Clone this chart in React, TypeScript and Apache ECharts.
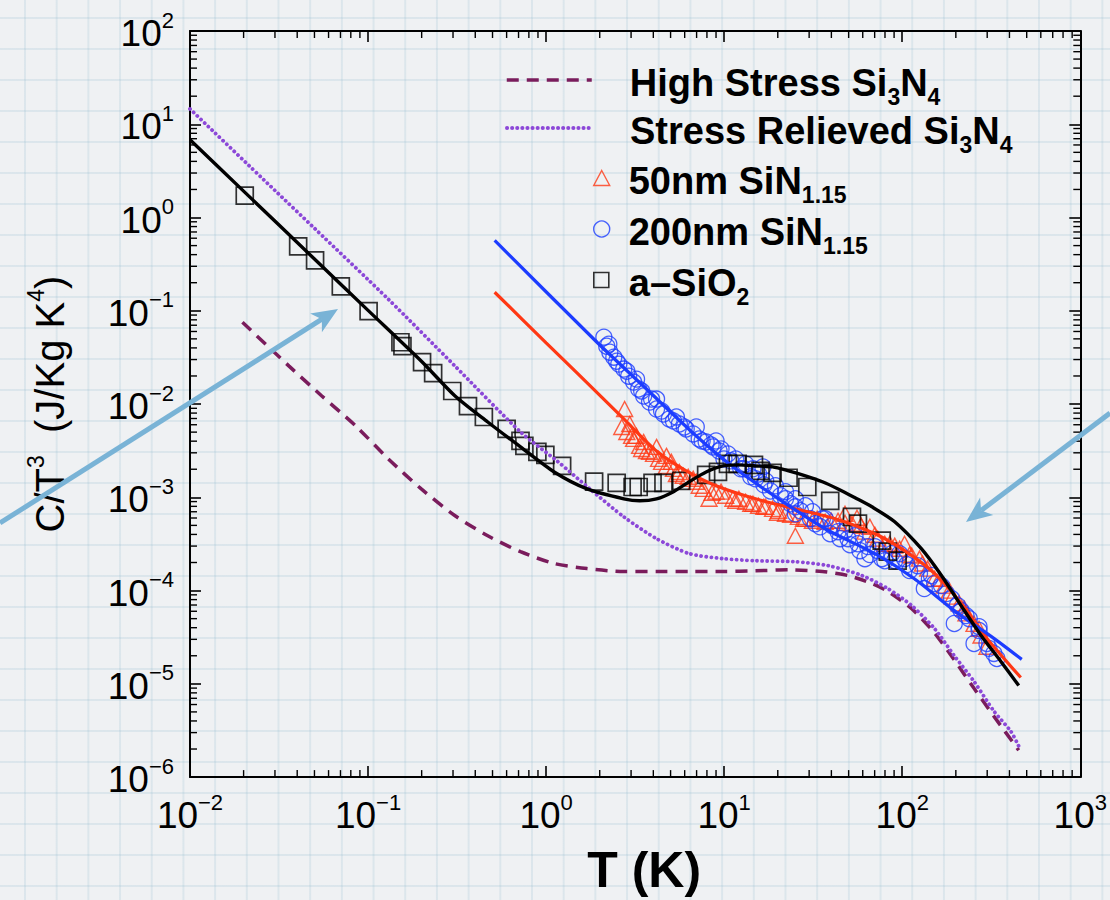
import React, { useEffect, useRef } from 'react';
import * as echarts from 'echarts';

const FONT = '"Liberation Sans", Arial, Helvetica, sans-serif';

const X_MIN = 0.01;
const X_MAX = 1000;
const Y_MIN = 1e-6;
const Y_MAX = 100;

const RED = '#ff3814';
const BLUE = '#1c3cff';
const MAROON = '#7a1c5c';
const PURPLE = '#8c48d8';
const ARROW = '#79b3d6';

// ---- a-SiO2 measured points ----
const sio2T = [0.0203, 0.0405, 0.0504, 0.0703, 0.1007, 0.152, 0.156, 0.201, 0.232, 0.297, 0.364, 0.447, 0.600, 0.718, 0.755, 0.893, 0.99, 1.23, 1.86, 2.49, 3.06, 3.31, 3.96, 4.56, 5.74, 7.92, 9.23, 10.5, 11.9, 14.7, 16.0, 18.7, 23.0, 29.3, 39.4, 52.2, 56.4, 76.7, 83.0, 94.2];
const sio2C = [1.72, 0.49, 0.347, 0.183, 0.099, 0.046, 0.0417, 0.0281, 0.0215, 0.0138, 0.00952, 0.00726, 0.00541, 0.00402, 0.00356, 0.00307, 0.00285, 0.00217, 0.00147, 0.00143, 0.00129, 0.00129, 0.00143, 0.00143, 0.0015, 0.00174, 0.00187, 0.00228, 0.00228, 0.00223, 0.00192, 0.00183, 0.00162, 0.00129, 0.000918, 0.000618, 0.000521, 0.000343, 0.000261, 0.000209];

// ---- a-SiO2 model curve ----
const sio2FitT = [0.01, 0.02, 0.05, 0.1, 0.2, 0.308, 0.47, 0.718, 1.11, 1.70, 2.73, 3.35, 4.17, 5.19, 6.37, 7.92, 9.84, 12.1, 15.0, 18.7, 23.0, 28.6, 35.6, 43.6, 54.3, 67.5, 90.7, 128, 166, 214, 277, 358, 451];
const sio2FitC = [6.83, 1.92, 0.359, 0.101, 0.0286, 0.0122, 0.00642, 0.00347, 0.00187, 0.00123, 0.000964, 0.000918, 0.000964, 0.00115, 0.00147, 0.00187, 0.00217, 0.00223, 0.00217, 0.00212, 0.00192, 0.0017, 0.00147, 0.00123, 0.000989, 0.000791, 0.000547, 0.000281, 0.000145, 6.9e-5, 3.3e-5, 1.74e-5, 9.6e-6];

// ---- Stress relieved Si3N4 (dotted) ----
const relievedT = [0.01, 0.03, 0.05, 0.13, 0.308, 0.718, 1.15, 1.76, 2.73, 4.17, 6.37, 9.84, 15.0, 25.1, 38.4, 59.4, 83.0, 113, 152, 196, 253, 327, 407, 451];
const relievedC = [14.6, 1.95, 0.767, 0.133, 0.0255, 0.00502, 0.00246, 0.00123, 0.000618, 0.00036, 0.000249, 0.00022, 0.000209, 0.000204, 0.000185, 0.000145, 0.000105, 6.9e-5, 3.9e-5, 2.0e-5, 1.06e-5, 5.1e-6, 3.1e-6, 2.15e-6];

// ---- High stress Si3N4 (dashed) ----
const highT = [0.0197, 0.036, 0.055, 0.0853, 0.13, 0.199, 0.308, 0.47, 0.718, 1.11, 1.70, 2.73, 4.17, 6.37, 9.84, 15.0, 23.0, 35.6, 49.6, 67.5, 83.0, 113, 152, 196, 253, 327, 451];
const highC = [0.0753, 0.0255, 0.0122, 0.00582, 0.00258, 0.00123, 0.000634, 0.000387, 0.000261, 0.000195, 0.000172, 0.00016, 0.00016, 0.00016, 0.00016, 0.000163, 0.000167, 0.00016, 0.000145, 0.000119, 9.8e-5, 6.4e-5, 3.5e-5, 1.8e-5, 8.95e-6, 4.5e-6, 1.94e-6];

// ---- 50nm SiN1.15 ----
const sin50T = [2.76, 2.66, 2.84, 3.10, 3.35, 3.66, 4.01, 4.45, 4.74, 4.74, 5.19, 5.89, 6.70, 7.24, 8.22, 10.2, 11.2, 13.2, 15.6, 18.7, 22.1, 25.1, 26.1, 31.3, 36.9, 43.6, 52.2, 55.7, 61.7, 72.9, 90.7, 113, 139, 172, 209, 253, 299, 2.95, 3.22, 3.53, 4.17, 5.05, 5.60, 9.0, 12.1, 14.5, 17.1, 20.2, 28.6, 47.7, 65.8, 79.8, 103, 125, 152, 191, 228, 277, 6.97, 7.62, 8.55, 9.60, 11.6, 14.1, 16.7, 19.9, 23.6, 27.9, 33.3, 39.9, 47.7, 58.6, 70.2, 85.1, 96.7, 110, 130, 162, 184, 223, 270, 3.02, 3.44, 3.81, 4.28, 5.39, 6.28];
const sin50C = [0.00885, 0.00568, 0.00502, 0.00423, 0.00356, 0.00314, 0.00292, 0.0024, 0.00278, 0.00217, 0.00202, 0.0017, 0.00158, 0.00133, 0.000964, 0.00104, 0.000964, 0.000895, 0.000811, 0.000753, 0.000667, 0.000387, 0.000618, 0.000561, 0.000547, 0.000561, 0.000521, 0.000604, 0.000428, 0.00036, 0.000303, 0.000237, 0.000172, 0.000113, 7.3e-5, 4.4e-5, 2.5e-5, 0.00611, 0.00455, 0.00392, 0.00347, 0.0024, 0.00187, 0.00115, 0.000964, 0.000852, 0.000791, 0.000717, 0.000589, 0.000666, 0.000483, 0.000318, 0.000318, 0.00022, 0.000134, 8.6e-5, 5.7e-5, 3.3e-5, 0.00147, 0.00123, 0.00112, 0.00115, 0.000918, 0.000852, 0.000791, 0.000683, 0.00065, 0.000589, 0.000589, 0.000561, 0.000534, 0.000496, 0.000397, 0.000318, 0.000281, 0.000243, 0.000195, 0.000134, 0.0001, 6.4e-5, 3.9e-5, 0.00455, 0.0033, 0.00307, 0.00258, 0.00178, 0.00166];
const sin50FitT = [0.514, 1.0, 1.5, 2.73, 4.17, 6.12, 9.0, 15.0, 25.1, 42.0, 70.2, 103, 152, 214, 299, 463];
const sin50FitC = [0.158, 0.0454, 0.0213, 0.00692, 0.00314, 0.00192, 0.00133, 0.000964, 0.000753, 0.000589, 0.000407, 0.000268, 0.000152, 7.3e-5, 3.07e-5, 1.17e-5];

// ---- 200nm SiN1.15 ----
const sin200T = [2.11, 2.19, 2.28, 2.40, 2.56, 2.73, 2.91, 3.10, 3.31, 3.53, 3.81, 4.17, 4.56, 4.92, 5.60, 6.12, 6.70, 7.24, 7.92, 8.66, 9.36, 10.5, 11.6, 13.2, 14.5, 15.6, 17.1, 19.4, 22.1, 25.1, 28.6, 31.3, 35.6, 40.4, 43.6, 49.6, 56.4, 64.1, 72.9, 87.3, 103, 122, 146, 166, 189, 214, 238, 270, 299, 327, 9.0, 12.4, 16.5, 25.1, 32.5, 47.7, 61.7, 79.8, 133, 196, 253, 340, 3.22, 4.17, 5.39, 6.97, 15.0, 9.97, 10.9, 12.9, 14.1, 16.7, 18.2, 20.7, 23.6, 26.8, 30.5, 34.6, 39.4, 44.8, 50.9, 57.9, 65.8, 76.8, 90.7, 106, 125, 152, 177, 204, 228, 270, 307, 96.7, 110, 142, 70.2, 54.3, 36.9, 22.1, 25.1, 2.25, 2.49, 2.84, 3.44, 3.91, 4.45, 5.19, 5.97, 7.52, 8.44, 9.60];
const sin200C = [0.0521, 0.0417, 0.036, 0.0318, 0.0268, 0.0237, 0.0199, 0.0172, 0.0145, 0.0122, 0.0105, 0.00884, 0.00782, 0.00692, 0.00611, 0.0054, 0.00478, 0.00422, 0.00392, 0.00347, 0.00314, 0.00292, 0.00258, 0.00228, 0.00202, 0.00178, 0.0015, 0.00133, 0.00115, 0.000964, 0.000811, 0.0007, 0.000589, 0.000496, 0.000428, 0.00036, 0.000318, 0.000296, 0.000268, 0.000249, 0.00022, 0.000185, 0.000145, 0.000113, 8.2e-5, 6.1e-5, 5.0e-5, 3.73e-5, 2.71e-5, 2.12e-5, 0.00402, 0.00202, 0.00212, 0.000666, 0.000521, 0.000438, 0.00022, 0.000209, 0.000105, 4.44e-5, 2.71e-5, 1.87e-5, 0.0185, 0.0113, 0.00726, 0.00568, 0.00158, 0.00258, 0.00246, 0.00202, 0.00166, 0.00136, 0.00117, 0.00104, 0.000852, 0.000717, 0.000589, 0.000483, 0.000407, 0.00036, 0.00031, 0.000268, 0.000243, 0.00022, 0.000209, 0.00019, 0.000152, 0.000119, 9.3e-5, 6.9e-5, 5.4e-5, 4.1e-5, 2.4e-5, 0.000249, 0.000164, 0.000134, 0.000296, 0.000387, 0.000589, 0.000964, 0.000791, 0.0438, 0.0288, 0.0225, 0.0138, 0.0113, 0.00842, 0.00658, 0.00568, 0.00402, 0.00364, 0.0033];
const sin200FitT = [0.514, 1.93, 3.66, 6.97, 11.6, 20.2, 36.9, 70.2, 117, 196, 327, 469];
const sin200FitC = [0.568, 0.046, 0.0145, 0.00455, 0.00202, 0.000964, 0.00046, 0.000249, 0.000134, 6.1e-5, 3.07e-5, 1.83e-5];

// ---- axis decoration: minor tick multipliers per decade ----
const minorMultipliers = [2, 3, 4, 5, 6, 7, 8, 9];
const xDecades = [-2, -1, 0, 1, 2];
const yDecades = [-6, -5, -4, -3, -2, -1, 0, 1];

const NAMES = {
  high: 'High Stress Si3N4',
  relieved: 'Stress Relieved Si3N4',
  s50: '50nm SiN1.15',
  s200: '200nm SiN1.15',
  sio2: 'a-SiO2',
};
const LEGEND_RICH_TEXT: Record<string, string> = {
  [NAMES.high]: '{b|High Stress Si}{s|3}{b|N}{s|4}',
  [NAMES.relieved]: '{b|Stress Relieved Si}{s|3}{b|N}{s|4}',
  [NAMES.s50]: '{b|50nm SiN}{s|1.15}',
  [NAMES.s200]: '{b|200nm SiN}{s|1.15}',
  [NAMES.sio2]: '{b|a\u2013SiO}{s|2}',
};
// vertical centre of each legend row, in the order of the legend entries
const legendRowCenters = [85, 133, 183, 234, 285];

const zip = (a: number[], b: number[]) => a.map((v, i) => [v, b[i]]);

const powLabel = (v: number) => {
  const e = Math.round(Math.log10(v));
  return `{b|10}{e|${e < 0 ? '\u2212' + -e : e}}`;
};

export default function App() {
  const ref = useRef<HTMLDivElement>(null);

  useEffect(() => {
    if (!ref.current) return;
    const chart = echarts.init(ref.current, undefined, { renderer: 'svg' });

    const xMinor = xDecades.flatMap((d) => minorMultipliers.map((m) => [m * Math.pow(10, d), 1]));
    const yMinor = yDecades.flatMap((d) => minorMultipliers.map((m) => [1, m * Math.pow(10, d)]));

    const tickRich = {
      b: { fontFamily: FONT, fontSize: 37, color: '#000', lineHeight: 44, padding: [6, 0, 6, 0], verticalAlign: 'top' },
      e: { fontFamily: FONT, fontSize: 22, color: '#000', lineHeight: 26, verticalAlign: 'top' },
    };
    const legendRich = {
      b: { fontFamily: FONT, fontSize: 38, fontWeight: 'bold', color: '#000', lineHeight: 40, padding: [4, 0, 4, 0], verticalAlign: 'top' },
      s: { fontFamily: FONT, fontSize: 23, fontWeight: 'bold', color: '#000', lineHeight: 27, padding: [25, 0, 0, 0], verticalAlign: 'top' },
    };
    const legendFormatter = (name: string) => LEGEND_RICH_TEXT[name] || name;

    const hiddenSymbol = { color: 'rgba(0,0,0,0)', borderColor: 'rgba(0,0,0,0)', borderWidth: 0, opacity: 0 };
    const legendItems: any[] = [
      { item: { name: NAMES.high, itemStyle: hiddenSymbol, lineStyle: { color: MAROON, width: 3.5, type: [12, 8] } }, left: 505, w: 85, h: 14, pad: 33 },
      { item: { name: NAMES.relieved, itemStyle: hiddenSymbol, lineStyle: { color: PURPLE, width: 4, type: [0.1, 5], cap: 'round' } }, left: 505, w: 85, h: 14, pad: 33 },
      { item: { name: NAMES.s50, icon: 'triangle', itemStyle: { color: 'rgba(0,0,0,0)', borderColor: RED, borderWidth: 1.4 } }, left: 593, w: 16, h: 15, pad: 14 },
      { item: { name: NAMES.s200, icon: 'circle', itemStyle: { color: 'rgba(0,0,0,0)', borderColor: BLUE, borderWidth: 1.4 } }, left: 593, w: 16, h: 16, pad: 14 },
      { item: { name: NAMES.sio2, icon: 'rect', itemStyle: { color: 'rgba(0,0,0,0)', borderColor: '#000', borderWidth: 1.6 } }, left: 593, w: 15, h: 15, pad: 15 },
    ];
    const legends = legendItems.map((l, i) => ({
      data: [l.item],
      orient: 'vertical', left: l.left, top: legendRowCenters[i] - 25, padding: 0,
      itemWidth: l.w, itemHeight: l.h, itemGap: 0, selectedMode: false,
      formatter: legendFormatter,
      textStyle: { rich: legendRich, padding: [0, 0, 0, l.pad] },
    }));

    const axisLine = { show: true, lineStyle: { color: '#000', width: 2 } };
    const majorTick = { show: true, inside: true, length: 11, lineStyle: { color: '#000', width: 1.6 } };
    const tickLine = (x1: number, y1: number, x2: number, y2: number) => ({
      type: 'line',
      shape: { x1, y1, x2, y2 },
      style: { stroke: '#000', lineWidth: 1.4 },
    });

    const option: any = {
      animation: false,
      backgroundColor: 'transparent',
      grid: { left: 190, top: 31, width: 897, height: 748, containLabel: false },
      xAxis: [
        {
          type: 'log', logBase: 10, min: X_MIN, max: X_MAX, splitNumber: 5, position: 'bottom',
          axisLine, axisTick: majorTick, splitLine: { show: false }, minorTick: { show: false },
          axisLabel: { formatter: powLabel, margin: 14, rich: tickRich, showMinLabel: true, showMaxLabel: true },
          name: 'T (K)', nameLocation: 'middle', nameGap: 64,
          nameTextStyle: { fontFamily: FONT, fontSize: 50, fontWeight: 'bold', color: '#000', padding: [0, 0, 0, 18] },
        },
        {
          type: 'log', logBase: 10, min: X_MIN, max: X_MAX, splitNumber: 5, position: 'top',
          axisLine, axisTick: majorTick, axisLabel: { show: false }, splitLine: { show: false },
        },
      ],
      yAxis: [
        {
          type: 'log', logBase: 10, min: Y_MIN, max: Y_MAX, splitNumber: 8, position: 'left',
          axisLine, axisTick: majorTick, splitLine: { show: false },
          axisLabel: { formatter: powLabel, margin: 16, rich: tickRich, showMinLabel: true, showMaxLabel: true },
          name: '{n|C/T}{u|3}{n|  (J/Kg K}{u|4}{n|)}', nameLocation: 'middle', nameGap: 120,
          nameTextStyle: {
            rich: {
              n: { fontFamily: FONT, fontSize: 40, color: '#000', lineHeight: 46, padding: [6, 0, 2, 0], verticalAlign: 'top' },
              u: { fontFamily: FONT, fontSize: 23, color: '#000', lineHeight: 27, verticalAlign: 'top' },
            },
          },
        },
        {
          type: 'log', logBase: 10, min: Y_MIN, max: Y_MAX, splitNumber: 8, position: 'right',
          axisLine, axisTick: majorTick, axisLabel: { show: false }, splitLine: { show: false },
        },
      ],
      legend: legends,
      series: [
        {
          name: 'xMinorTicks', type: 'custom', silent: true, data: xMinor, encode: { x: 0, y: 1 },
          renderItem: (_p: any, api: any) => {
            const v = api.value(0);
            const b = api.coord([v, Y_MIN]);
            const t = api.coord([v, Y_MAX]);
            return { type: 'group', children: [tickLine(b[0], b[1], b[0], b[1] - 7), tickLine(t[0], t[1], t[0], t[1] + 7)] };
          },
        },
        {
          name: 'yMinorTicks', type: 'custom', silent: true, data: yMinor, encode: { x: 0, y: 1 },
          renderItem: (_p: any, api: any) => {
            const v = api.value(1);
            const l = api.coord([X_MIN, v]);
            const r = api.coord([X_MAX, v]);
            return { type: 'group', children: [tickLine(l[0], l[1], l[0] + 7, l[1]), tickLine(r[0], r[1], r[0] - 7, r[1])] };
          },
        },
        {
          name: NAMES.high, type: 'line', data: zip(highT, highC), showSymbol: false, symbol: 'none', smooth: 0.25,
          lineStyle: { color: MAROON, width: 3.5, type: [12, 8] }, itemStyle: { color: MAROON },
        },
        {
          name: NAMES.relieved, type: 'line', data: zip(relievedT, relievedC), showSymbol: false, symbol: 'none', smooth: 0.25,
          lineStyle: { color: PURPLE, width: 3.8, type: [0.1, 5], cap: 'round' }, itemStyle: { color: PURPLE },
        },
        {
          name: NAMES.s50, type: 'scatter', data: zip(sin50T, sin50C), symbol: 'triangle', symbolSize: [16, 15],
          itemStyle: { color: 'rgba(0,0,0,0)', borderColor: RED, borderWidth: 1.4 },
        },
        {
          name: 's50fit', type: 'line', data: zip(sin50FitT, sin50FitC), showSymbol: false, symbol: 'none', smooth: 0.25,
          lineStyle: { color: RED, width: 3.2 },
        },
        {
          name: NAMES.s200, type: 'scatter', data: zip(sin200T, sin200C), symbol: 'circle', symbolSize: 16,
          itemStyle: { color: 'rgba(0,0,0,0)', borderColor: BLUE, borderWidth: 1.3 },
        },
        {
          name: 's200fit', type: 'line', data: zip(sin200FitT, sin200FitC), showSymbol: false, symbol: 'none', smooth: 0.25,
          lineStyle: { color: BLUE, width: 3.2 },
        },
        {
          name: NAMES.sio2, type: 'scatter', data: zip(sio2T, sio2C), symbol: 'rect', symbolSize: 17,
          itemStyle: { color: 'rgba(0,0,0,0)', borderColor: '#000', borderWidth: 1.7 },
        },
        {
          name: 'sio2fit', type: 'line', data: zip(sio2FitT, sio2FitC), showSymbol: false, symbol: 'none', smooth: 0.25,
          lineStyle: { color: '#000', width: 3.4 },
        },
      ],
      graphic: [
        { type: 'line', z: 100, shape: { x1: 0, y1: 523, x2: 321.9, y2: 319.2 }, style: { stroke: ARROW, lineWidth: 5 } },
        { type: 'polygon', z: 100, shape: { points: [[338, 309], [321.9, 332.2], [321.9, 319.2], [310.1, 313.6]] }, style: { fill: ARROW } },
        { type: 'line', z: 100, shape: { x1: 1110, y1: 413, x2: 981.1, y2: 510.5 }, style: { stroke: ARROW, lineWidth: 5 } },
        { type: 'polygon', z: 100, shape: { points: [[966, 522], [993.3, 515.1], [981.1, 510.5], [980.1, 497.5]] }, style: { fill: ARROW } },
      ],
    };

    chart.setOption(option);
    return () => chart.dispose();
  }, []);

  const paper: React.CSSProperties = {
    position: 'absolute', left: 0, top: 0, width: 1110, height: 900,
    backgroundColor: '#eff1f3',
    backgroundImage:
      'linear-gradient(to right, rgba(150,190,208,0.22) 2px, transparent 2px),' +
      'linear-gradient(to bottom, rgba(150,190,208,0.22) 2px, transparent 2px)',
    backgroundSize: '31.7px 31px',
    backgroundPosition: '24px 17px',
  };

  return (
    <div style={paper}>
      <div ref={ref} style={{ width: 1110, height: 900 }} />
    </div>
  );
}
